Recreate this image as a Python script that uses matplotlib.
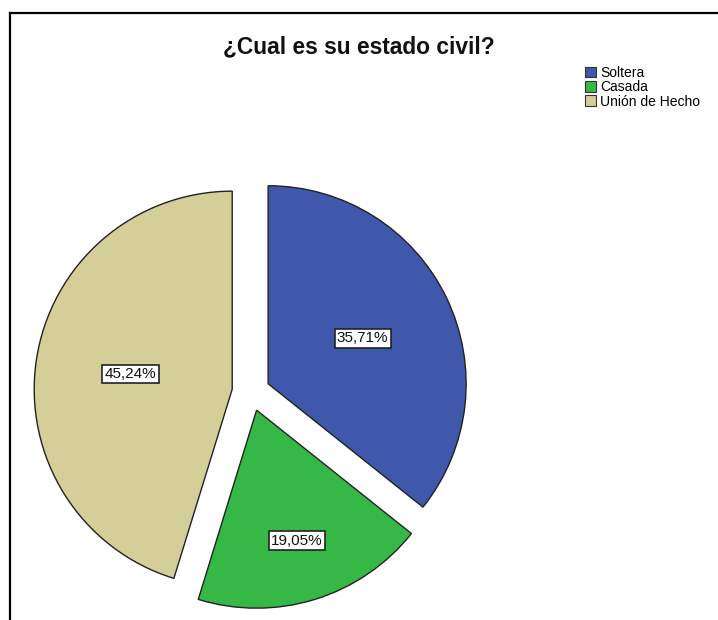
import numpy as np
import matplotlib
matplotlib.use("Agg")
import matplotlib.pyplot as plt
from matplotlib.lines import Line2D
from matplotlib.patches import Patch

plt.rcParams["font.family"] = ["Liberation Sans", "DejaVu Sans"]

categories = ["Soltera", "Casada", "Unión de Hecho"]
percents = [35.71, 19.05, 45.24]
colors = ["#3F58AC", "#36B847", "#D4CF98"]
label_dist = [0.53, 0.69, 0.52]

W, H = 718, 620
fig = plt.figure(figsize=(W / 100, H / 100), dpi=100)
ax = fig.add_axes([0, 0, 1, 1])

center = (251, H - 392)
radius = 198
gap = 19  # explode offset, in pixels (pie treats explode as absolute units)

wedges, _ = ax.pie(
    percents,
    colors=colors,
    startangle=90,
    counterclock=False,
    explode=[gap] * len(percents),
    center=center,
    radius=radius,
    wedgeprops=dict(edgecolor="#222222", linewidth=1.0),
    frame=True,
)
ax.set_xlim(0, W)
ax.set_ylim(0, H)
ax.set_aspect("equal")
ax.axis("off")

# percentage boxes inside each slice
for w, pct, d in zip(wedges, percents, label_dist):
    mid = np.deg2rad((w.theta1 + w.theta2) / 2)
    cx, cy = w.center
    x = cx + d * radius * np.cos(mid)
    y = cy + d * radius * np.sin(mid)
    ax.text(x, y, f"{pct:.2f}%".replace(".", ","), ha="center", va="center",
            fontsize=11, color="#111111",
            bbox=dict(boxstyle="square,pad=0.15", facecolor="white",
                      edgecolor="#222222", linewidth=1.2))

fig.text(359 / W, 1 - 47 / H, "¿Cual es su estado civil?", ha="center",
         va="center", fontsize=16.4, fontweight="bold", color="#111111")

handles = [Patch(facecolor=c, edgecolor="#333333", linewidth=0.8) for c in colors]
fig.legend(handles, categories, loc="upper left",
           bbox_to_anchor=(585 / W, 1 - 66 / H), frameon=False, fontsize=10,
           handlelength=0.8, handleheight=0.8, handletextpad=0.3,
           labelspacing=0.02, borderpad=0, borderaxespad=0)

# outer frame (top and left edges)
fig.add_artist(Line2D([9.5 / W, 1], [1 - 12.5 / H] * 2, color="black", linewidth=1.6))
fig.add_artist(Line2D([9.5 / W] * 2, [0, 1 - 12.5 / H], color="black", linewidth=1.6))

fig.savefig("out.png", dpi=100)
